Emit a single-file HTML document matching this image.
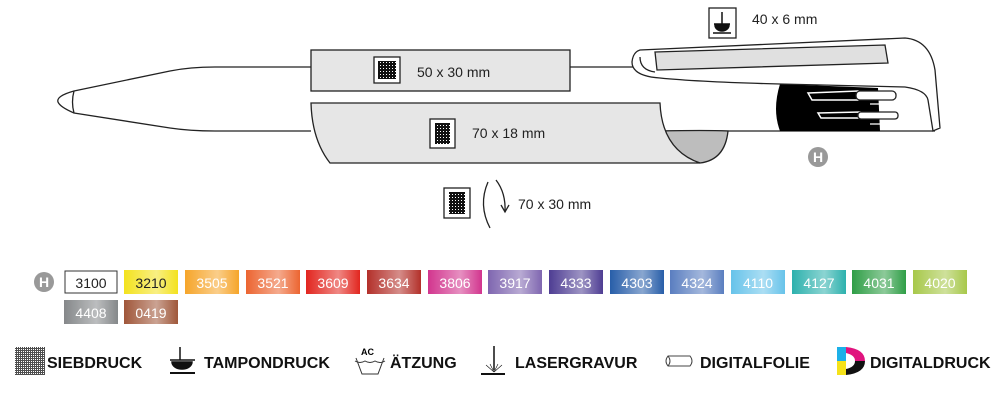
<!DOCTYPE html>
<html><head><meta charset="utf-8"><style>
body{margin:0;background:#fff;}
svg{display:block;font-family:"Liberation Sans",sans-serif;}
.lg{font-weight:bold;font-size:16px;fill:#111;}
.sw{font-size:14px;fill:#fff;}
</style></head><body>
<svg width="1000" height="400" viewBox="0 0 1000 400" xmlns="http://www.w3.org/2000/svg">
<defs>
<pattern id="mesh" width="2" height="2" patternUnits="userSpaceOnUse"><rect width="2" height="2" fill="#fff"/><rect width="1" height="2" fill="#222"/><rect width="2" height="1" fill="#222"/></pattern>
<pattern id="mesh2" width="3" height="3" patternUnits="userSpaceOnUse"><rect width="3" height="3" fill="#fff"/><rect width="2" height="3" fill="#111"/><rect width="3" height="2" fill="#111"/></pattern>
<linearGradient id="shine" x1="0" x2="1"><stop offset="0" stop-color="#fff" stop-opacity="0"/><stop offset="0.6" stop-color="#fff" stop-opacity="0.45"/><stop offset="1" stop-color="#fff" stop-opacity="0"/></linearGradient>
</defs>
<g stroke="#222" stroke-width="1.3" fill="none">
<path d="M215,67 Q190,67 170,71 L74,91 Q56,96 58,102 Q60,107 74,113 L170,128 Q190,131 215,131 L311,131" fill="#fff"/>
<path d="M74,91 Q71,102 74,113"/>
<line x1="215" y1="67" x2="311" y2="67"/>
<line x1="570" y1="67" x2="634" y2="67"/>
<rect x="311" y="50" width="259" height="41" fill="#e6e6e6"/>
<line x1="660" y1="131" x2="935" y2="131"/>
<path d="M660,131 Q705,130 728,131 Q725,160 700,163 Q680,158 660,131Z" fill="#bdbdbd"/>
<path d="M311,103 L660,103 Q662,150 700,163 L330,163 Q312,140 311,103Z" fill="#e6e6e6"/>
<path d="M780,84 L878,88 L880,131 L780,131 Q772,110 780,84Z" fill="#000" stroke="none"/>
<path d="M640,50 L905,38 Q930,40 935,70 L940,128 L933,131 L928,100 Q926,90 905,87 L780,84 Q700,82 660,78 Q632,76 632,62 Q633,52 640,50Z" fill="#fff"/>
<path d="M655,52 L885,45 L888,63 L657,70Z" fill="#e0e0e0"/>
<path d="M640,57 Q640,70 655,72"/>
<g fill="#fff"><path d="M808,93 L858,91 L858,100 L812,100Z" fill="#000" stroke="#fff" stroke-width="1.5"/>
<rect x="856" y="91" width="40" height="9" rx="4" stroke="#222"/>
<path d="M818,113 L860,112 L860,118 L821,118Z" fill="#000" stroke="#fff" stroke-width="1.5"/>
<rect x="858" y="112" width="40" height="7" rx="3" stroke="#222"/>
<line x1="870" y1="104" x2="925" y2="104" stroke="#fff"/>
<line x1="870" y1="124" x2="925" y2="124" stroke="#fff"/></g>
<rect x="374" y="57" width="26" height="26" fill="#fff"/>
<rect x="430" y="119" width="25" height="29" fill="#fff"/>
<rect x="444" y="188" width="26" height="30" fill="#fff"/>
<rect x="709" y="8" width="27" height="30" fill="#fff"/>
<path d="M488,182 Q478,205 490,228 M496,180 Q506,193 505,212"/>
<path d="M501,205 L505,212 L509,205" fill="none"/>
</g>
<rect x="378" y="61" width="18" height="18" fill="url(#mesh2)"/>
<rect x="435" y="123" width="15" height="21" fill="url(#mesh2)"/>
<rect x="449" y="192" width="16" height="22" fill="url(#mesh2)"/>
<g stroke="#111" stroke-width="1.5" fill="#111"><line x1="722" y1="12" x2="722" y2="24"/><line x1="714" y1="24" x2="730" y2="24"/><path d="M715,25 A7,6 0 0 0 729,25Z"/><line x1="713" y1="33" x2="731" y2="33"/></g>
<circle cx="818" cy="157" r="10" fill="#999"/><text x="818" y="162" font-size="14" font-weight="bold" fill="#fff" text-anchor="middle">H</text>
<g font-size="14" fill="#222">
<text x="417" y="77">50 x 30 mm</text>
<text x="472" y="138">70 x 18 mm</text>
<text x="518" y="209">70 x 30 mm</text>
<text x="752" y="24">40 x 6 mm</text>
</g>
<circle cx="44" cy="282" r="10" fill="#999"/><text x="44" y="287" font-size="14" font-weight="bold" fill="#fff" text-anchor="middle">H</text>
<g>
<rect x="65" y="271" width="52" height="22" fill="#fff" stroke="#333"/><text x="91" y="288" font-size="14" fill="#222" text-anchor="middle">3100</text>
<rect x="124" y="270" width="54" height="24" fill="#f3e21e"/><rect x="124" y="270" width="54" height="24" fill="url(#shine)"/><text x="151" y="288" font-size="14" fill="#222" text-anchor="middle">3210</text>
</g>
<g class="sw" text-anchor="middle">
<rect x="185" y="270" width="54" height="24" fill="#f6a52a"/><rect x="185" y="270" width="54" height="24" fill="url(#shine)"/><text x="212" y="288">3505</text>
<rect x="246" y="270" width="54" height="24" fill="#ec6531"/><rect x="246" y="270" width="54" height="24" fill="url(#shine)"/><text x="273" y="288">3521</text>
<rect x="306" y="270" width="54" height="24" fill="#e2261f"/><rect x="306" y="270" width="54" height="24" fill="url(#shine)"/><text x="333" y="288">3609</text>
<rect x="367" y="270" width="54" height="24" fill="#b3302a"/><rect x="367" y="270" width="54" height="24" fill="url(#shine)"/><text x="394" y="288">3634</text>
<rect x="428" y="270" width="54" height="24" fill="#d2358e"/><rect x="428" y="270" width="54" height="24" fill="url(#shine)"/><text x="455" y="288">3806</text>
<rect x="488" y="270" width="54" height="24" fill="#7f66b0"/><rect x="488" y="270" width="54" height="24" fill="url(#shine)"/><text x="515" y="288">3917</text>
<rect x="549" y="270" width="54" height="24" fill="#4e3d93"/><rect x="549" y="270" width="54" height="24" fill="url(#shine)"/><text x="576" y="288">4333</text>
<rect x="610" y="270" width="54" height="24" fill="#285ea9"/><rect x="610" y="270" width="54" height="24" fill="url(#shine)"/><text x="637" y="288">4303</text>
<rect x="670" y="270" width="54" height="24" fill="#5a7ec0"/><rect x="670" y="270" width="54" height="24" fill="url(#shine)"/><text x="697" y="288">4324</text>
<rect x="731" y="270" width="54" height="24" fill="#67c3ea"/><rect x="731" y="270" width="54" height="24" fill="url(#shine)"/><text x="758" y="288">4110</text>
<rect x="792" y="270" width="54" height="24" fill="#2db1ad"/><rect x="792" y="270" width="54" height="24" fill="url(#shine)"/><text x="819" y="288">4127</text>
<rect x="852" y="270" width="54" height="24" fill="#2f9e46"/><rect x="852" y="270" width="54" height="24" fill="url(#shine)"/><text x="879" y="288">4031</text>
<rect x="913" y="270" width="54" height="24" fill="#a7c84a"/><rect x="913" y="270" width="54" height="24" fill="url(#shine)"/><text x="940" y="288">4020</text>
<rect x="64" y="300" width="54" height="24" fill="#85888a"/><rect x="64" y="300" width="54" height="24" fill="url(#shine)"/><text x="91" y="318">4408</text>
<rect x="124" y="300" width="54" height="24" fill="#a0573a"/><rect x="124" y="300" width="54" height="24" fill="url(#shine)"/><text x="151" y="318">0419</text>
</g>
<rect x="15" y="347" width="30" height="28" fill="url(#mesh)" opacity="0.8"/>
<text class="lg" x="47" y="368">SIEBDRUCK</text>
<g stroke="#111" stroke-width="1.5" fill="#111"><line x1="180" y1="347" x2="180" y2="360"/><line x1="170" y1="360" x2="195" y2="360"/><path d="M172,362 A10,7 0 0 0 192,362Z"/><line x1="170" y1="373" x2="195" y2="373" stroke-width="2"/></g>
<text class="lg" x="204" y="368">TAMPONDRUCK</text>
<text x="361" y="355" font-size="9" font-weight="bold">AC</text>
<path d="M355,361 Q360,364 365,361 Q370,364 375,361 Q380,364 385,361 M356,358 L362,374 L378,374 L384,358" stroke="#333" fill="none"/>
<text class="lg" x="390" y="368">ÄTZUNG</text>
<g stroke="#111" fill="none"><line x1="494" y1="346" x2="494" y2="370" stroke-width="1.5"/><line x1="481" y1="374" x2="505" y2="374" stroke-width="2"/><path d="M494,372 L486,365 M494,372 L502,365 M494,372 L490,364 M494,372 L498,364" stroke-width="0.6"/></g>
<text class="lg" x="515" y="368">LASERGRAVUR</text>
<path d="M668,356 L690,356 Q694,361 690,366 L668,366 Q664,361 668,356Z M668,356 Q672,361 668,366" stroke="#444" fill="#fff"/>
<text class="lg" x="700" y="368">DIGITALFOLIE</text>
<rect x="837" y="347" width="9" height="14" fill="#1cb0e8"/><rect x="837" y="361" width="9" height="14" fill="#f5e21a"/>
<path d="M846,347 Q865,349 865,361 L855,361 Q855,355 846,353Z" fill="#e0137e"/>
<path d="M865,361 Q865,373 846,375 L846,369 Q855,367 855,361Z" fill="#111"/>
<text class="lg" x="870" y="368">DIGITALDRUCK</text>
</svg>
</body></html>
